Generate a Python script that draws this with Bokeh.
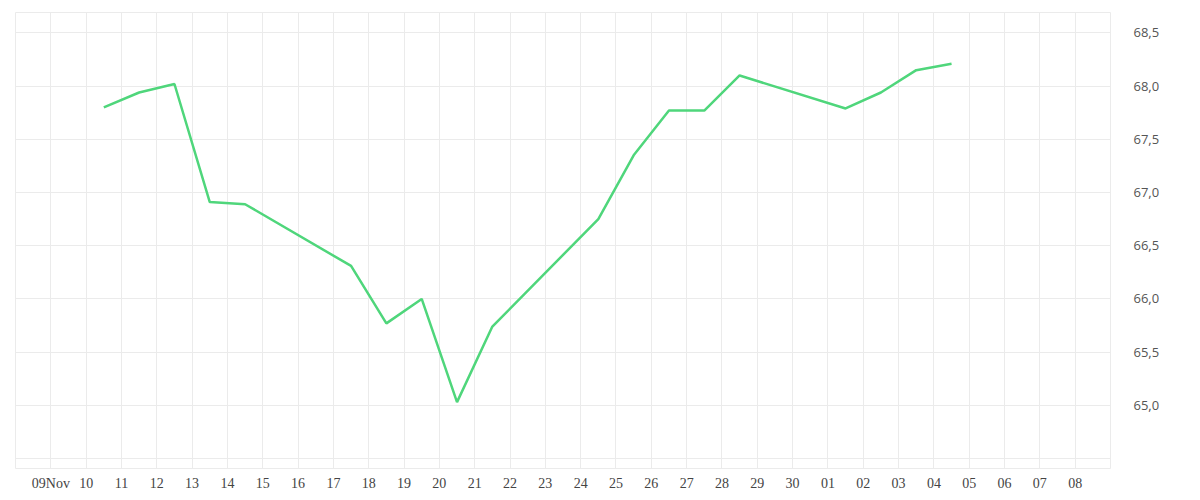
from datetime import datetime, timedelta
from bokeh.plotting import figure
from bokeh.models import Range1d, FixedTicker, CustomJSTickFormatter, ColumnDataSource
from bokeh.embed import file_html
from bokeh.resources import INLINE

# ---- data ----
dates = ["2025-11-10", "2025-11-11", "2025-11-12", "2025-11-13", "2025-11-14",
         "2025-11-17", "2025-11-18", "2025-11-19", "2025-11-20", "2025-11-21",
         "2025-11-24", "2025-11-25", "2025-11-26", "2025-11-27", "2025-11-28",
         "2025-12-01", "2025-12-02", "2025-12-03", "2025-12-04"]
values = [67.80, 67.94, 68.02, 66.91, 66.89,
          66.31, 65.77, 66.00, 65.03, 65.74,
          66.75, 67.35, 67.77, 67.77, 68.10,
          67.79, 67.94, 68.15, 68.21]
tick_days = ["2025-11-%02d" % d for d in range(9, 31)] + ["2025-12-%02d" % d for d in range(1, 9)]
tick_labels = ["09Nov"] + ["%02d" % d for d in range(10, 31)] + ["%02d" % d for d in range(1, 9)]
y_ticks = [64.5, 65.0, 65.5, 66.0, 66.5, 67.0, 67.5, 68.0, 68.5]

x = [datetime.strptime(d, "%Y-%m-%d") + timedelta(hours=12) for d in dates]
epoch = datetime(1970, 1, 1)
tick_ms = [(datetime.strptime(d, "%Y-%m-%d") - epoch).total_seconds() * 1000 for d in tick_days]

src = ColumnDataSource(dict(x=x, y=values))

p = figure(width=1192, height=496, x_axis_type="datetime", y_axis_location="right",
           output_backend="svg", toolbar_location=None,
           min_border_left=15, min_border_top=12, min_border_right=82, min_border_bottom=28,
           x_range=Range1d(datetime(2025, 11, 8), datetime(2025, 12, 9)),
           y_range=Range1d(64.406, 68.692))

p.line("x", "y", source=src, line_color="#4fd67b", line_width=2.5)

p.outline_line_color = "#ebebeb"
p.background_fill_color = "white"
p.border_fill_color = "white"

p.xaxis.ticker = FixedTicker(ticks=tick_ms)
p.xaxis.formatter = CustomJSTickFormatter(
    args=dict(tk=tick_ms, lb=tick_labels),
    code="""
    for (let i = 0; i < tk.length; i++) {
        if (Math.abs(tk[i] - tick) < 1000) return lb[i];
    }
    return '';
    """)
p.yaxis.ticker = FixedTicker(ticks=y_ticks)
p.yaxis.formatter = CustomJSTickFormatter(
    code="return tick < 64.75 ? '' : tick.toFixed(1).replace('.', ',');")

for ax in (p.xaxis[0], p.yaxis[0]):
    ax.axis_line_color = None
    ax.major_tick_line_color = None
    ax.minor_tick_line_color = None

p.xaxis.major_label_text_font = "Liberation Serif"
p.xaxis.major_label_text_font_size = "14px"
p.xaxis.major_label_text_color = "#444444"
p.xaxis.major_label_standoff = 1

p.yaxis.major_label_text_font = "Open Sans"
p.yaxis.major_label_text_font_size = "13px"
p.yaxis.major_label_text_color = "#555555"
p.yaxis.major_label_standoff = 17

p.xgrid.grid_line_color = "#ebebeb"
p.ygrid.grid_line_color = "#ebebeb"
p.xgrid.grid_line_width = 1
p.ygrid.grid_line_width = 1

open("out.html", "w").write(file_html(p, INLINE))
